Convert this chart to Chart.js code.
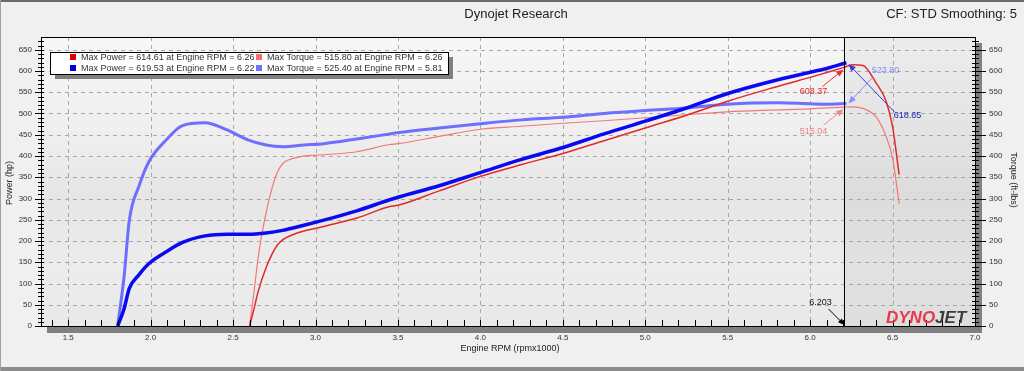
<!DOCTYPE html>
<html>
<head>
<meta charset="utf-8">
<script src="https://cdn.jsdelivr.net/npm/chart.js@4.4.1/dist/chart.umd.min.js"></script>
<style>
  html, body { margin: 0; padding: 0; background: #f0f0f0; }
  canvas { display: block; }
</style>
</head>
<body>
<canvas id="dyno" width="1024" height="371"></canvas>
<script>
// run 1 (red) - rpm x1000, hp, ft-lbs
const rpmRun1 = [2.60, 2.63, 2.65, 2.70, 2.77, 2.87, 3.05, 3.25, 3.45, 3.50, 3.75, 4.00, 4.25, 4.50, 4.75, 5.00, 5.25, 5.50, 5.75, 6.00, 6.20, 6.26, 6.32, 6.40, 6.46, 6.50, 6.54];
const powerRun1 = [0, 45, 78, 137, 191, 216, 234, 254, 281, 284, 318, 352, 380, 406, 436, 466, 496, 529, 558, 585, 608, 614.6, 613, 572, 530, 469, 356];
const torqueRun1 = [0, 90, 155, 266, 363, 395, 403, 410, 427, 429, 446, 463, 470, 477, 483, 490, 497, 504, 508, 511, 515, 515.8, 512, 492, 447, 395, 288];

// run 2 (blue)
const rpmRun2 = [1.80, 1.84, 1.87, 1.93, 1.99, 2.10, 2.19, 2.33, 2.46, 2.59, 2.70, 2.80, 2.93, 3.05, 3.25, 3.45, 3.50, 3.75, 4.00, 4.25, 4.50, 4.75, 5.00, 5.25, 5.50, 5.81, 6.00, 6.10, 6.22];
const powerRun2 = [0, 42, 88, 121, 147, 176, 196, 212, 216, 216, 219, 225, 237, 249, 271, 297, 303, 330, 361, 392, 420, 452, 482, 513, 547, 580, 597, 606, 619.5];
const torqueRun2 = [0, 120, 247, 330, 387, 440, 471, 478, 462, 438, 426, 422, 426, 429, 440, 452, 455, 466, 476, 485, 491, 500, 507, 513, 522, 525.4, 523, 522, 523.8];

// axis ticks
const rpmTicks = [1.5, 2.0, 2.5, 3.0, 3.5, 4.0, 4.5, 5.0, 5.5, 6.0, 6.5, 7.0];
const valueTicks = [0, 50, 100, 150, 200, 250, 300, 350, 400, 450, 500, 550, 600, 650];

// cursor readout
const cursorRpm = 6.203;
const cursorValues = { power1: 608.37, torque1: 515.04, power2: 618.65, torque2: 523.80 };

const FONT = '"Liberation Sans", Arial, sans-serif';

function toPoints(xs, ys) {
  return xs.map((x, i) => ({ x: x, y: ys[i] }));
}

function arrow(ctx, x1, y1, x2, y2, color, head) {
  head = head || 7;
  const ang = Math.atan2(y2 - y1, x2 - x1);
  ctx.save();
  ctx.strokeStyle = color;
  ctx.fillStyle = color;
  ctx.lineWidth = 1;
  ctx.beginPath();
  ctx.moveTo(x1, y1);
  ctx.lineTo(x2 - Math.cos(ang) * head * 0.8, y2 - Math.sin(ang) * head * 0.8);
  ctx.stroke();
  ctx.beginPath();
  ctx.moveTo(x2, y2);
  ctx.lineTo(x2 - head * Math.cos(ang - 0.4), y2 - head * Math.sin(ang - 0.4));
  ctx.lineTo(x2 - head * Math.cos(ang + 0.4), y2 - head * Math.sin(ang + 0.4));
  ctx.closePath();
  ctx.fill();
  ctx.restore();
}

// background, plot panel, grid (under the lines)
const backdrop = {
  id: "backdrop",
  beforeDraw(chart) {
    const { ctx, chartArea: a, scales } = chart;
    ctx.save();
    ctx.fillStyle = "#f0f0f0";
    ctx.fillRect(0, 0, chart.width, chart.height);
    // outer frame
    ctx.fillStyle = "#6a6a6a";
    ctx.fillRect(0, 0, chart.width, 2);
    ctx.fillStyle = "#8c8c8c";
    ctx.fillRect(0, 367, chart.width, 4);
    ctx.fillStyle = "#a0a0a0";
    ctx.fillRect(0, 0, 1, chart.height);

    // panel shadow
    ctx.fillStyle = "#808080";
    ctx.fillRect(a.right, a.top + 6, 7, a.bottom - a.top + 1);
    ctx.fillRect(a.left + 6, a.bottom, a.right - a.left + 1, 7);

    // panel gradient
    const g = ctx.createLinearGradient(0, a.top, 0, a.bottom);
    g.addColorStop(0, "#f7f7f7");
    g.addColorStop(0.35, "#eeeeee");
    g.addColorStop(0.55, "#e6e6e6");
    g.addColorStop(0.8, "#ececec");
    g.addColorStop(1, "#e9e9e9");
    ctx.fillStyle = g;
    ctx.fillRect(a.left, a.top, a.right - a.left, a.bottom - a.top);

    // shade right of cursor
    const cx = scales.x.getPixelForValue(cursorRpm);
    ctx.fillStyle = "rgba(0,0,0,0.045)";
    ctx.fillRect(cx, a.top, a.right - cx, a.bottom - a.top);

    // dashed grid
    ctx.strokeStyle = "#a9a9a9";
    ctx.lineWidth = 1;
    ctx.setLineDash([4, 4]);
    valueTicks.forEach((v) => {
      if (v === 0) return;
      const y = Math.round(scales.y.getPixelForValue(v)) + 0.5;
      ctx.beginPath();
      ctx.moveTo(a.left, y);
      ctx.lineTo(a.right, y);
      ctx.stroke();
    });
    rpmTicks.forEach((r) => {
      if (r >= 7.0) return;
      const x = Math.round(scales.x.getPixelForValue(r)) + 0.5;
      ctx.beginPath();
      ctx.moveTo(x, a.top);
      ctx.lineTo(x, a.bottom);
      ctx.stroke();
    });
    ctx.restore();
  },
};

// axes, legend, cursor and labels on top
const overlay = {
  id: "overlay",
  afterDatasetsDraw(chart) {
    const { ctx, chartArea: a, scales } = chart;
    const xs = scales.x, ys = scales.y;
    ctx.save();

    // panel border
    ctx.strokeStyle = "#000";
    ctx.lineWidth = 1;
    ctx.strokeRect(a.left + 0.5, a.top + 0.5, a.right - a.left, a.bottom - a.top);

    // left / right ticks
    ctx.beginPath();
    for (let v = 0; v <= 670; v += 10) {
      const y = Math.round(ys.getPixelForValue(v)) + 0.5;
      const major = v % 50 === 0;
      ctx.moveTo(major ? a.left - 6 : a.left - 3, y);
      ctx.lineTo(a.left + 3, y);
      ctx.moveTo(a.right - 3, y);
      ctx.lineTo(major ? a.right + 11 : a.right + 4, y);
    }
    // bottom ticks every 0.1
    for (let r = 14; r <= 70; r++) {
      const x = Math.round(xs.getPixelForValue(r / 10)) + 0.5;
      ctx.moveTo(x, a.bottom - 6);
      ctx.lineTo(x, a.bottom);
    }
    ctx.stroke();

    ctx.fillStyle = "#333";
    ctx.font = "8px " + FONT;
    ctx.textBaseline = "middle";
    valueTicks.forEach((v) => {
      const y = ys.getPixelForValue(v);
      ctx.textAlign = "right";
      ctx.fillText(String(v), a.left - 9, y);
      ctx.textAlign = "left";
      ctx.fillText(String(v), a.right + 14, y);
    });
    ctx.textAlign = "center";
    rpmTicks.forEach((r) => {
      ctx.fillText(r.toFixed(1), xs.getPixelForValue(r), a.bottom + 12);
    });

    // axis titles
    ctx.font = "9px " + FONT;
    ctx.fillStyle = "#222";
    ctx.fillText("Engine RPM (rpmx1000)", 510, 349);
    ctx.save();
    ctx.translate(10, 183);
    ctx.rotate(-Math.PI / 2);
    ctx.fillText("Power (hp)", 0, 0);
    ctx.restore();
    ctx.save();
    ctx.translate(1013, 180);
    ctx.rotate(Math.PI / 2);
    ctx.fillText("Torque (ft-lbs)", 0, 0);
    ctx.restore();

    // header
    ctx.font = "13px " + FONT;
    ctx.fillStyle = "#222";
    ctx.textAlign = "center";
    ctx.fillText("Dynojet Research", 516, 14);
    ctx.textAlign = "right";
    ctx.fillText("CF: STD Smoothing: 5", 1017, 14);

    // cursor line
    const cx = Math.round(xs.getPixelForValue(cursorRpm)) + 0.5;
    ctx.strokeStyle = "#000";
    ctx.beginPath();
    ctx.moveTo(cx, a.top);
    ctx.lineTo(cx, a.bottom);
    ctx.stroke();
    ctx.font = "9px " + FONT;
    ctx.textAlign = "center";
    ctx.fillStyle = "#111";
    ctx.fillText(cursorRpm.toFixed(3), cx - 24, a.bottom - 23);
    arrow(ctx, cx - 16, a.bottom - 17, cx, a.bottom - 1, "#000", 7);

    // cursor readouts
    const p1 = ys.getPixelForValue(cursorValues.power1);
    const t1 = ys.getPixelForValue(cursorValues.torque1);
    const p2 = ys.getPixelForValue(cursorValues.power2);
    const t2 = ys.getPixelForValue(cursorValues.torque2);
    arrow(ctx, cx - 22, p1 + 19, cx - 1, p1 + 2, "#e83030", 8);
    arrow(ctx, cx - 21, t1 + 18, cx - 1, t1 + 2, "#f08a8a", 8);
    arrow(ctx, cx + 28, t2 - 26, cx + 4, t2, "#8c8cff", 8);
    arrow(ctx, cx + 50, p2 + 49, cx + 4, p2 + 1, "#3a3ad8", 8);
    ctx.fillStyle = "#e02828";
    ctx.fillText(cursorValues.power1.toFixed(2), cx - 31, p1 + 24);
    ctx.fillStyle = "#f08080";
    ctx.fillText(cursorValues.torque1.toFixed(2), cx - 31, t1 + 24);
    ctx.fillStyle = "#8c8cff";
    ctx.fillText(cursorValues.torque2.toFixed(2), cx + 41, t2 - 33);
    ctx.fillStyle = "#2020c0";
    ctx.fillText(cursorValues.power2.toFixed(2), cx + 63, p2 + 52);

    // logo
    ctx.font = "bold italic 17px " + FONT;
    ctx.textAlign = "left";
    ctx.textBaseline = "alphabetic";
    ctx.fillStyle = "#e8384a";
    ctx.fillText("DYNO", 886, 323);
    const w = ctx.measureText("DYNO").width;
    ctx.fillStyle = "#3c3c3c";
    ctx.fillText("JET", 886 + w, 323);

    // legend box
    const lx = 50, ly = 52, lw = 398, lh = 22;
    ctx.fillStyle = "#808080";
    ctx.fillRect(lx + 5, ly + 5, lw, lh);
    ctx.fillStyle = "#fff";
    ctx.fillRect(lx, ly, lw, lh);
    ctx.strokeStyle = "#000";
    ctx.strokeRect(lx + 0.5, ly + 0.5, lw, lh);
    ctx.font = "9px " + FONT;
    ctx.textBaseline = "middle";
    const slots = [[73, 57], [73, 68], [259, 57], [259, 68]];
    const legendOrder = [0, 2, 1, 3];
    legendOrder.forEach((di, k) => {
      const ds = chart.data.datasets[di];
      const [sx, sy] = slots[k];
      ctx.fillStyle = ds.legendColor;
      ctx.fillRect(sx - 3, sy - 3, 6, 6);
      ctx.fillStyle = "#333";
      ctx.fillText(ds.label, sx + 8, sy + 0.5);
    });
    ctx.restore();
  },
};

new Chart(document.getElementById("dyno"), {
  type: "line",
  data: {
    datasets: [
      {
        label: "Max Power = 614.61 at Engine RPM = 6.26",
        data: toPoints(rpmRun1, powerRun1),
        borderColor: "#e42828",
        legendColor: "#e00000",
        borderWidth: 1.5,
        yAxisID: "y",
        order: 1,
      },
      {
        label: "Max Torque = 515.80 at Engine RPM = 6.26",
        data: toPoints(rpmRun1, torqueRun1),
        borderColor: "#f27878",
        legendColor: "#f07070",
        borderWidth: 1.2,
        yAxisID: "y2",
        order: 3,
      },
      {
        label: "Max Power = 619.53 at Engine RPM = 6.22",
        data: toPoints(rpmRun2, powerRun2),
        borderColor: "#0a0af0",
        legendColor: "#0000d8",
        borderWidth: 3.5,
        yAxisID: "y",
        order: 0,
      },
      {
        label: "Max Torque = 525.40 at Engine RPM = 5.81",
        data: toPoints(rpmRun2, torqueRun2),
        borderColor: "#6e6eff",
        legendColor: "#7070ff",
        borderWidth: 3,
        yAxisID: "y2",
        order: 2,
      },
    ],
  },
  options: {
    responsive: false,
    animation: false,
    devicePixelRatio: 1,
    layout: { padding: { left: 41, top: 37, right: 49, bottom: 45 } },
    elements: {
      point: { radius: 0, hoverRadius: 0 },
      line: { cubicInterpolationMode: "monotone", fill: false },
    },
    plugins: { legend: { display: false }, tooltip: { enabled: false } },
    scales: {
      x: { type: "linear", min: 1.335, max: 7.0, display: false },
      y: { min: 0, max: 680, display: false },
      y2: { min: 0, max: 680, display: false, position: "right" },
    },
  },
  plugins: [backdrop, overlay],
});
</script>
</body>
</html>
